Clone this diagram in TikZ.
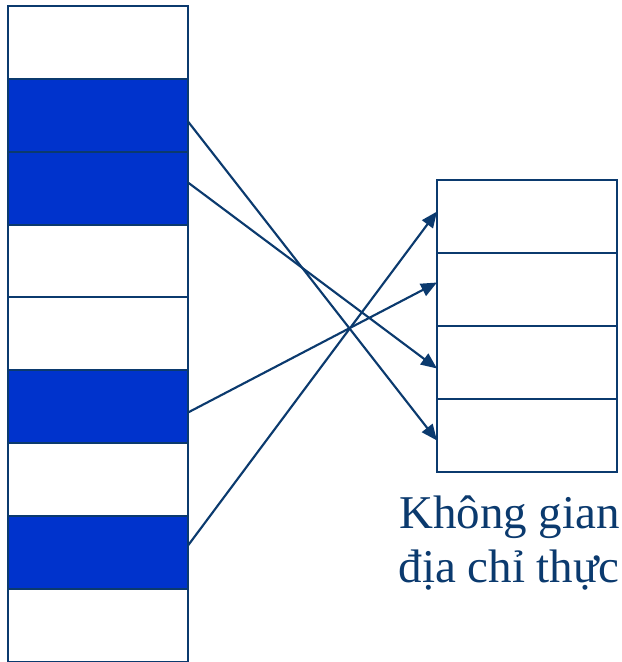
\documentclass[tikz,border=0pt]{standalone}
\usepackage{fontspec}
\setmainfont{Liberation Serif}
\usetikzlibrary{arrows.meta}
\definecolor{navy}{HTML}{0B3A6E}
\definecolor{fillblue}{HTML}{0033CC}
\begin{document}
\begin{tikzpicture}[x=0.75pt,y=-0.75pt,
  cell/.style={draw=navy,line width=1.5pt,minimum width=135pt,minimum height=54.75pt,inner sep=0pt,outer sep=0pt,anchor=north west},
  used/.style={cell,fill=fillblue},
  free/.style={cell,fill=white},
  link/.style={draw=navy,line width=1.6pt,-{Triangle[length=12pt,width=10pt]}},
  lbl/.style={text=navy,font=\fontsize{35.25pt}{40pt}\selectfont,inner sep=0pt,anchor=base east}]
\useasboundingbox (0,0) rectangle (622,662);
\node[free] (L1) at (8,6) {};
\node[used] (L2) at (8,79) {};
\node[used] (L3) at (8,152) {};
\node[free] (L4) at (8,225) {};
\node[free] (L5) at (8,297) {};
\node[used] (L6) at (8,370) {};
\node[free] (L7) at (8,443) {};
\node[used] (L8) at (8,516) {};
\node[free] (L9) at (8,589) {};
\node[free] (R1) at (437,180) {};
\node[free] (R2) at (437,253) {};
\node[free] (R3) at (437,326) {};
\node[free] (R4) at (437,399) {};
\draw[link] ([yshift=-4.5pt]L2.east) -- ([yshift=-3.75pt]R4.west);
\draw[link] ([yshift=4.5pt]L3.east) -- ([yshift=-4.5pt]R3.west);
\draw[link] ([yshift=-4.5pt]L6.east) -- ([yshift=5.25pt]R2.west);
\draw[link] ([yshift=5.25pt]L8.east) -- ([yshift=3.75pt]R1.west);
\node[lbl] (t1) at (620,528) {Không gian};
\node[lbl] (t2) at (620,582) {địa chỉ thực};
\end{tikzpicture}
\end{document}
